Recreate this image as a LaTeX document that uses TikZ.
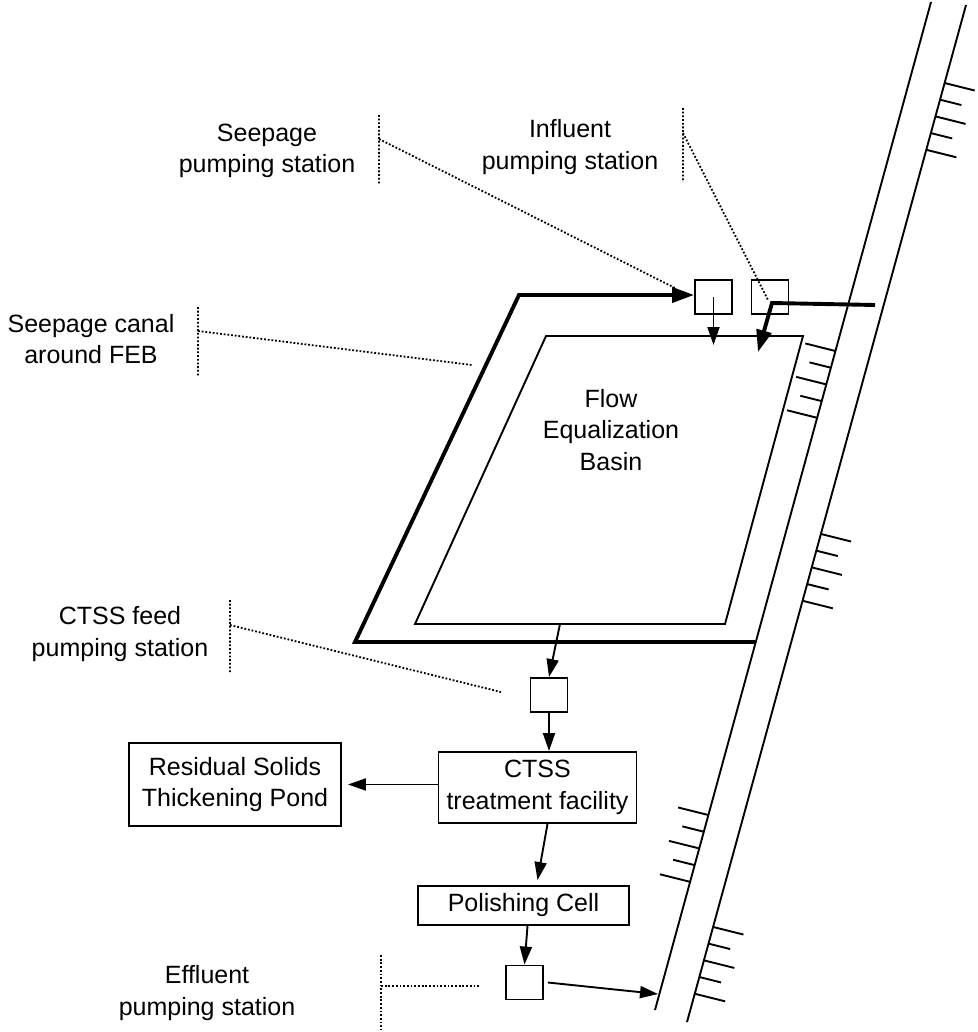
\documentclass[tikz,border=0pt]{standalone}
\usepackage{fontspec}
\setmainfont{Liberation Sans}
\usetikzlibrary{positioning, arrows.meta, calc}

\begin{document}
\begin{tikzpicture}[x=1pt, y=-1pt, >={Triangle[length=18pt,width=12pt]},
  flow/.style={->, line width=1.9pt},
  pipe/.style={-{Triangle[length=22pt,width=15pt]}, line width=3.9pt},
  leader/.style={line width=1.8pt, dash pattern=on 1.8pt off 1.9pt},
  levee/.style={line width=1.9pt},
  pump/.style={draw, line width=1.9pt, minimum width=37pt, minimum height=34pt, inner sep=0pt},
  unit/.style={draw, line width=1.9pt, inner sep=0pt}]
  \tikzstyle{every node}=[font=\fontsize{25}{31.5}\selectfont, align=center]
  \fill[white] (0,0) rectangle (977,1032);

  \coordinate (lvl-n) at (931,2);
  \coordinate (lvl-s) at (655,1010);
  \coordinate (lvr-n) at (966,5);
  \coordinate (lvr-s) at (687,1022);
  \draw[levee] (lvl-n) -- (lvl-s);
  \draw[levee] (lvr-n) -- (lvr-s);
  \foreach \xo/\yo/\dir/\ys in {966/5/1/83, 931/2/-1/351, 966/5/1/534, 931/2/-1/815, 966/5/1/927}
    \foreach \k in {0,...,4} {
      \pgfmathsetmacro\yy{\ys+16.7*\k}
      \pgfmathsetmacro\xx{\xo-0.274*(\yy-\yo)}
      \pgfmathsetmacro\hx{\dir*0.97*(isodd(\k) ? 22 : 31)}
      \pgfmathsetmacro\hy{\dir*0.243*(isodd(\k) ? 22 : 31)}
      \draw[levee] (\xx,\yy) -- ++(\hx,\hy);
    }

  \coordinate (feb-nw) at (546,336);
  \coordinate (feb-ne) at (803,336);
  \coordinate (feb-se) at (725,624);
  \coordinate (feb-sw) at (415,624);
  \draw[line width=1.9pt] (feb-nw) -- (feb-ne) -- (feb-se) -- (feb-sw) -- cycle;
  \node (feb) at (611,430) {Flow\\Equalization\\Basin};

  \node[pump] (ssp) at (713.5,297) {};
  \node[pump] (isp) at (770,297) {};
  \node[pump] (fsp) at (549,695) {};
  \node[pump] (esp) at (524.5,982.5) {};
  \node[unit, minimum width=198pt, minimum height=71pt] (ctss) at (537.5,787.5) {CTSS\\treatment facility};
  \node[unit, minimum width=212pt, minimum height=83pt] (res) at (235,784.5) {Residual Solids\\Thickening Pond};
  \node[unit, minimum width=211pt, minimum height=39pt] (pol) at (523.5,905.5) {Polishing Cell};

  \node (spl) at (267,151) {Seepage\\pumping station};
  \node (ipl) at (570,147) {Influent\\pumping station};
  \node (cnl) at (91,339) {Seepage canal\\around FEB};
  \node (fpl) at (120,634) {CTSS feed\\pumping station};
  \node (epl) at (207,993) {Effluent\\pumping station};

  \coordinate (can-se) at (755,642);
  \coordinate (can-sw) at (355,642);
  \coordinate (can-nw) at (519,295);
  \draw[pipe] (can-se) -- (can-sw) -- (can-nw) -- (can-nw -| ssp.west);

  \coordinate (inf-src) at (875,305);
  \coordinate (inf-bend) at (772,303);
  \coordinate (feb-in2) at (758,352);
  \draw[pipe] (inf-src) -- (inf-bend) -- (feb-in2);

  \coordinate (feb-in1) at (713.5,345);
  \coordinate (feb-out) at (560,624);
  \coordinate (outfall) at (658,994);
  \draw[flow] (ssp.center) -- (feb-in1);
  \draw[flow] (feb-out) -- (fsp.north);
  \draw[flow] (fsp.south) -- (fsp.south |- ctss.north);
  \draw[flow] (res.east -| ctss.west) -- ([xshift=6pt]res.east);
  \draw[flow] ([xshift=10pt]ctss.south) -- ([xshift=14pt,yshift=5pt]pol.north);
  \draw[flow] ([xshift=4pt]pol.south) -- (esp.north);
  \draw[flow] ([xshift=4pt]esp.east) -- (outfall);

  \coordinate (ssp-tag) at (675,288);
  \coordinate (isp-tag) at (768,300);
  \coordinate (can-tag) at (472,365);
  \coordinate (fsp-tag) at (501,692);
  \coordinate (esp-tag) at (479,986);
  \draw[leader] (379,115) -- (379,185) (379,139) -- (ssp-tag);
  \draw[leader] (683,108) -- (683,182) (683,133) -- (isp-tag);
  \draw[leader] (198,307) -- (198,377) (198,331) -- (can-tag);
  \draw[leader] (230,600) -- (230,672) (230,625) -- (fsp-tag);
  \draw[leader] (381,955) -- (381,1030) (381,986) -- (esp-tag);
\end{tikzpicture}
\end{document}
